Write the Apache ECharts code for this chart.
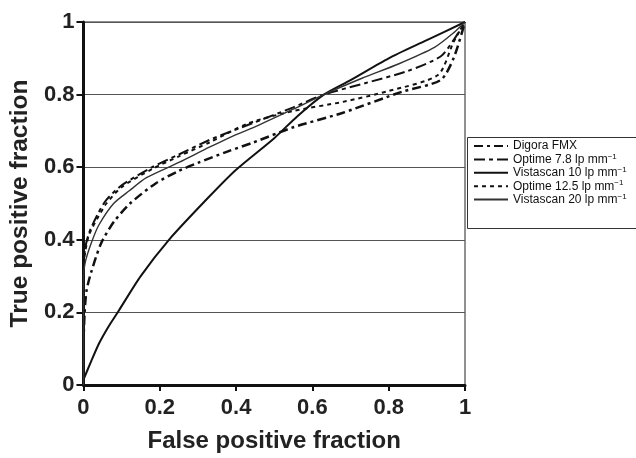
<!DOCTYPE html>
<html>
<head>
<meta charset="utf-8">
<script src="https://cdn.jsdelivr.net/npm/echarts@6/dist/echarts.min.js"></script>
<style>html,body{margin:0;padding:0;background:#fff;}#c{width:636px;height:458px;}</style>
</head>
<body>
<div id="c"></div>
<script>
// Axis ticks
const xTicks = [0, 0.2, 0.4, 0.6, 0.8, 1];
const yTicks = [0, 0.2, 0.4, 0.6, 0.8, 1];

// Series names
const seriesNames = ['Digora FMX', 'Optime 7.8 lp mm', 'Vistascan 10 lp mm', 'Optime 12.5 lp mm', 'Vistascan 20 lp mm'];

// Digora FMX (dash-dot)
const digoraX = [0, 0, 0.003, 0.008, 0.02, 0.046, 0.08, 0.122, 0.19, 0.25, 0.30, 0.377, 0.445, 0.55, 0.68, 0.835, 0.936, 0.97, 1];
const digoraY = [0, 0.10, 0.20, 0.26, 0.31, 0.39, 0.45, 0.50, 0.556, 0.59, 0.612, 0.643, 0.668, 0.71, 0.75, 0.808, 0.84, 0.90, 1];

// Optime 7.8 lp/mm (long dash)
const opt78X = [0, 0, 0.005, 0.015, 0.037, 0.06, 0.10, 0.18, 0.25, 0.33, 0.445, 0.55, 0.63, 0.74, 0.85, 0.936, 0.97, 1];
const opt78Y = [0, 0.33, 0.38, 0.42, 0.47, 0.51, 0.55, 0.60, 0.635, 0.675, 0.722, 0.765, 0.80, 0.832, 0.865, 0.905, 0.95, 1];

// Vistascan 10 lp/mm (solid)
const vis10X = [0, 0.02, 0.041, 0.065, 0.092, 0.15, 0.224, 0.326, 0.40, 0.50, 0.56, 0.63, 0.70, 0.80, 0.90, 1];
const vis10Y = [0.015, 0.065, 0.115, 0.16, 0.204, 0.30, 0.40, 0.515, 0.593, 0.68, 0.74, 0.80, 0.84, 0.90, 0.95, 1];

// Optime 12.5 lp/mm (short dash)
const opt125X = [0, 0, 0.005, 0.015, 0.037, 0.06, 0.10, 0.18, 0.25, 0.33, 0.43, 0.55, 0.68, 0.80, 0.929, 0.97, 1];
const opt125Y = [0, 0.32, 0.37, 0.415, 0.46, 0.50, 0.545, 0.595, 0.63, 0.668, 0.72, 0.755, 0.78, 0.81, 0.854, 0.945, 1];

// Vistascan 20 lp/mm (thin solid)
const vis20X = [0, 0, 0.005, 0.02, 0.04, 0.079, 0.12, 0.165, 0.25, 0.33, 0.40, 0.445, 0.55, 0.63, 0.73, 0.827, 0.92, 0.97, 1];
const vis20Y = [0, 0.30, 0.34, 0.39, 0.44, 0.50, 0.535, 0.571, 0.613, 0.655, 0.69, 0.709, 0.76, 0.80, 0.845, 0.885, 0.93, 0.97, 1];

const zip = (xs, ys) => xs.map((x, i) => [x, ys[i]]);

const styles = [
  { type: [9, 4, 3, 4], width: 2.5, color: '#111' },
  { type: [11, 4, 4, 4], width: 2, color: '#111' },
  { type: 'solid', width: 2, color: '#111' },
  { type: [4, 4], width: 2, color: '#111' },
  { type: 'solid', width: 1.4, color: '#333' }
];
const datas = [zip(digoraX, digoraY), zip(opt78X, opt78Y), zip(vis10X, vis10Y), zip(opt125X, opt125Y), zip(vis20X, vis20Y)];
const FONT = 'Liberation Sans, Arial, sans-serif';

const chart = echarts.init(document.getElementById('c'), null, { renderer: 'canvas' });
chart.setOption({
  animation: false,
  backgroundColor: '#fff',
  grid: { left: 72, right: 171, top: 22, bottom: 72, show: true, borderColor: '#222', borderWidth: 1 },
  graphic: [{
    type: 'rect', left: 467, top: 137, z: 0,
    shape: { width: 200, height: 91 },
    style: { fill: '#fff', stroke: '#333', lineWidth: 1 }
  }],
  legend: {
    orient: 'vertical', left: 473, top: 140, padding: 0,
    itemWidth: 34, itemHeight: 10, itemGap: 0.4,
    itemStyle: { opacity: 0 },
    data: seriesNames,
    textStyle: {
      fontFamily: FONT, fontSize: 12, color: '#111', lineHeight: 12,
      rich: {
        n: { fontSize: 12, fontFamily: FONT, color: '#111', lineHeight: 12 },
        s: { fontSize: 8, fontFamily: FONT, color: '#111', padding: [0, 0, 6, 0] }
      }
    },
    formatter: name => name.indexOf('mm') >= 0 ? '{n|' + name + '}{s|\u22121}' : '{n|' + name + '}'
  },
  xAxis: {
    type: 'value', min: 0, max: 1, interval: 0.2,
    name: 'False positive fraction', nameLocation: 'middle', nameGap: 44,
    nameTextStyle: { fontFamily: FONT, fontWeight: 'bold', fontSize: 24, color: '#222' },
    axisLine: { lineStyle: { color: '#111', width: 3 } },
    axisTick: { show: true, length: 6, lineStyle: { color: '#111', width: 2 } },
    axisLabel: { fontFamily: FONT, fontWeight: 'bold', fontSize: 22, color: '#222', margin: 12,
      formatter: v => { const t = xTicks.find(k => Math.abs(k - v) < 1e-9); return t === undefined ? '' : String(t); } },
    splitLine: { show: false }
  },
  yAxis: {
    type: 'value', min: 0, max: 1, interval: 0.2,
    name: 'True positive fraction', nameLocation: 'middle', nameGap: 40, nameRotate: 90,
    nameTextStyle: { fontFamily: FONT, fontWeight: 'bold', fontSize: 24.5, color: '#222' },
    axisLine: { show: true, lineStyle: { color: '#111', width: 3 } },
    axisTick: { show: true, length: 7, lineStyle: { color: '#111', width: 2 } },
    axisLabel: { fontFamily: FONT, fontWeight: 'bold', fontSize: 22, color: '#222', margin: 9,
      formatter: v => { const t = yTicks.find(k => Math.abs(k - v) < 1e-9); return t === undefined ? '' : String(t); } },
    splitLine: { show: true, lineStyle: { color: '#555', width: 1 } }
  },
  series: seriesNames.map((n, i) => ({
    name: n, type: 'line', data: datas[i], symbol: 'none', showSymbol: false,
    smooth: 0.25, lineStyle: styles[i], itemStyle: { color: styles[i].color }, z: 3
  }))
});
</script>
</body>
</html>
